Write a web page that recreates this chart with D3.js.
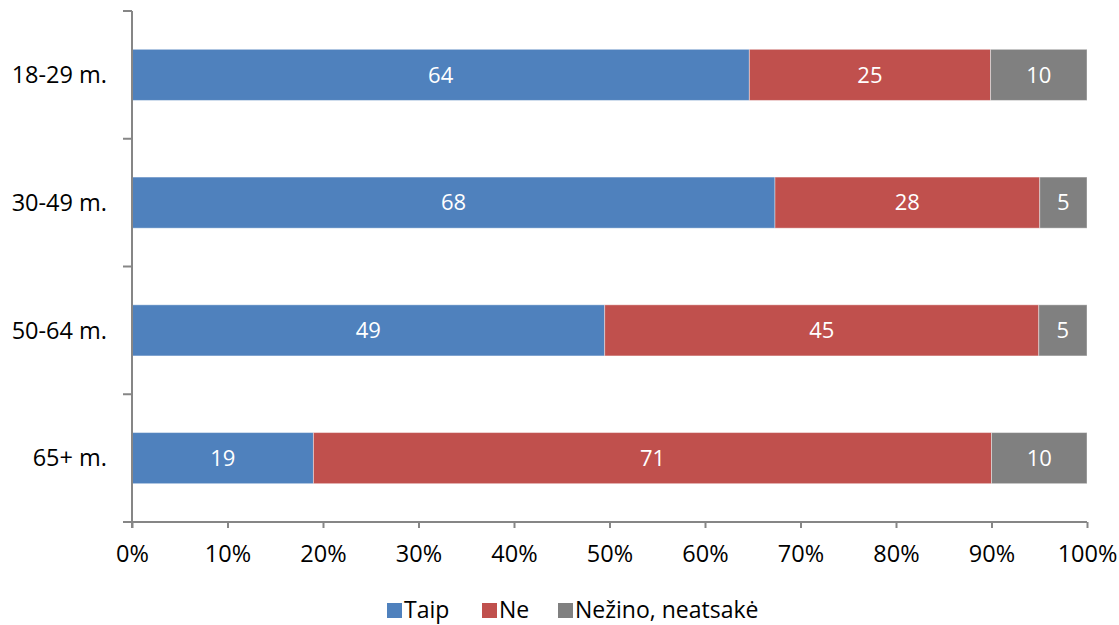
<!DOCTYPE html>
<html lang="lt">
<head>
<meta charset="utf-8">
<script src="https://d3js.org/d3.v7.min.js"></script>
<style>
  body { margin: 0; background: #fff; }
  text { font-family: "Open Sans", sans-serif; }
</style>
</head>
<body>
<script>
// data
var groups = ["18-29 m.", "30-49 m.", "50-64 m.", "65+ m."];
var seriesNames = ["Taip", "Ne", "Nežino, neatsakė"];
var taip = [64, 68, 49, 19];
var ne = [25, 28, 45, 71];
var nezino = [10, 5, 5, 10];
var xTicks = [0, 10, 20, 30, 40, 50, 60, 70, 80, 90, 100];
var colors = ["#4F81BD", "#C0504D", "#808080"];

var W = 1119, H = 625;
var plotL = 132, plotR = 1087, plotT = 11, plotB = 522;
var fs = "23.5px";

var svg = d3.select("body").append("svg")
    .attr("width", W).attr("height", H);

var x = d3.scaleLinear().domain([0, 1]).range([plotL, plotR]);
var y = d3.scaleBand().domain(groups).range([plotT, plotB]).paddingInner(0.6).paddingOuter(0.3);

// build rows, normalise to 100%
var rows = groups.map(function(g, i) {
  var vals = [taip[i], ne[i], nezino[i]];
  var tot = d3.sum(vals);
  var acc = 0;
  return vals.map(function(v, k) {
    var seg = {g: g, k: k, v: v, x0: acc / tot, x1: (acc + v) / tot};
    acc += v;
    return seg;
  });
});

// bars
var segs = svg.append("g").selectAll("g")
  .data(d3.merge(rows)).enter().append("g");

segs.append("rect")
  .attr("x", function(d) { return x(d.x0); })
  .attr("y", function(d) { return y(d.g); })
  .attr("width", function(d) { return x(d.x1) - x(d.x0); })
  .attr("height", y.bandwidth())
  .attr("fill", function(d) { return colors[d.k]; })
  .attr("stroke", "rgba(255,255,255,0.4)")
  .attr("stroke-width", 1);

segs.append("text")
  .attr("x", function(d) { return (x(d.x0) + x(d.x1)) / 2; })
  .attr("y", function(d) { return y(d.g) + y.bandwidth() / 2; })
  .attr("dy", "0.35em")
  .attr("text-anchor", "middle")
  .attr("fill", "#fff")
  .style("font-size", "22px")
  .text(function(d) { return d.v; });

// x axis
var xAxis = svg.append("g")
  .attr("transform", "translate(0," + plotB + ")")
  .call(d3.axisBottom(x).tickValues(xTicks.map(function(t) { return t / 100; }))
    .tickFormat(function(d) { return Math.round(d * 100) + "%"; })
    .tickSize(6).tickSizeOuter(0).tickPadding(17));
xAxis.select(".domain").attr("stroke", "#868686").attr("stroke-width", 2)
  .attr("d", "M" + (plotL - 9) + ",0H" + plotR);
xAxis.selectAll(".tick line").attr("stroke", "#868686").attr("stroke-width", 2);
xAxis.selectAll(".tick text").attr("fill", "#000").style("font-size", fs)
  .style("font-family", "'Open Sans', sans-serif");

// y axis with ticks between categories
var yAxis = svg.append("g").attr("transform", "translate(" + plotL + ",0)");
yAxis.append("line")
  .attr("x1", 0).attr("x2", 0).attr("y1", plotT).attr("y2", plotB + 6)
  .attr("stroke", "#868686").attr("stroke-width", 2);
var bounds = d3.range(groups.length + 1).map(function(i) { return plotT + i * (plotB - plotT) / groups.length; });
yAxis.selectAll(".yt").data(bounds).enter().append("line")
  .attr("x1", -9).attr("x2", 0)
  .attr("y1", function(d) { return d; }).attr("y2", function(d) { return d; })
  .attr("stroke", "#868686").attr("stroke-width", 2);
yAxis.selectAll(".yl").data(groups).enter().append("text")
  .attr("x", -25)
  .attr("y", function(d) { return y(d) + y.bandwidth() / 2; })
  .attr("dy", "0.35em")
  .attr("text-anchor", "end")
  .attr("fill", "#000")
  .style("font-size", fs)
  .text(function(d) { return d; });

// legend
var legX = [387, 482, 558];
var leg = svg.append("g").selectAll("g").data(seriesNames).enter().append("g")
  .attr("transform", function(d, i) { return "translate(" + legX[i] + ",603)"; });
leg.append("rect").attr("width", 15).attr("height", 15)
  .attr("fill", function(d, i) { return colors[i]; });
leg.append("text").attr("x", 17).attr("y", 15)
  .style("font-size", "23px").attr("fill", "#000")
  .text(function(d) { return d; });
</script>
</body>
</html>
